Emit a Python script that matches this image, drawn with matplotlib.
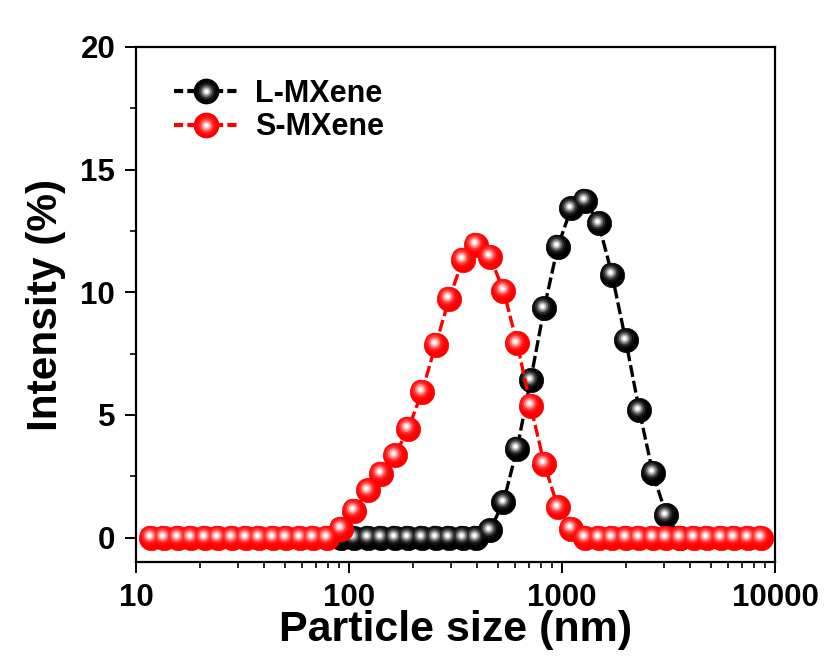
import numpy as np
import matplotlib
matplotlib.use("Agg")
import matplotlib.pyplot as plt
from matplotlib.lines import Line2D
from matplotlib.legend_handler import HandlerTuple
from matplotlib.transforms import offset_copy
from matplotlib.ticker import MultipleLocator, FixedLocator, NullFormatter


# particle size bins (nm) and intensity (%)
L_SIZE = [91.28, 105.7, 122.4, 141.8, 164.2, 190.1, 220.2, 255.0, 295.3, 342.0,
          396.1, 458.7, 531.2, 615.1, 712.4, 825.0, 955.4, 1106, 1281, 1484,
          1718, 1990, 2305, 2669, 3091, 3580]
L_INT = [0, 0, 0, 0, 0, 0, 0, 0, 0, 0,
         0, 0.30, 1.44, 3.62, 6.42, 9.35, 11.86, 13.43, 13.74, 12.82,
         10.71, 8.05, 5.19, 2.63, 0.90, 0]

S_SIZE = [11.7, 13.54, 15.69, 18.17, 21.04, 24.36, 28.21, 32.67, 37.84, 43.82,
          50.75, 58.77, 68.06, 78.82, 91.28, 105.7, 122.4, 141.8, 164.2, 190.1,
          220.2, 255.0, 295.3, 342.0, 396.1, 458.7, 531.2, 615.1, 712.4, 825.0,
          955.4, 1106, 1281, 1484, 1718, 1990, 2305, 2669, 3091, 3580,
          4145, 4801, 5560, 6439, 7456, 8635]
S_INT = [0, 0, 0, 0, 0, 0, 0, 0, 0, 0,
         0, 0, 0, 0, 0.36, 1.10, 1.92, 2.60, 3.35, 4.44,
         5.94, 7.85, 9.73, 11.32, 11.93, 11.45, 10.07, 7.92, 5.37, 3.01,
         1.24, 0.35, 0, 0, 0, 0, 0, 0, 0, 0,
         0, 0, 0, 0, 0, 0]

LABELS = ["L-MXene", "S-MXene"]
X_TICKS = [10, 100, 1000, 10000]
Y_TICKS = [0, 5, 10, 15, 20]

MS = 17.5
LW = 2.4
DASH = (0, (3.6, 1.2))
# (size fraction, mix-to-white) layers for the shaded ball look
LAYERS = [(0.8, 0.06), (0.62, 0.2), (0.46, 0.45), (0.32, 0.72), (0.18, 1.0)]


def mix(color, t):
    c = np.array(matplotlib.colors.to_rgb(color))
    return tuple(c + (1 - c) * t)


def sphere_series(fig, ax, x, y, color, z):
    ax.plot(x, y, color=color, linestyle=DASH, linewidth=LW, zorder=z)
    ax.plot(x, y, linestyle="none", marker="o", markersize=MS,
            markerfacecolor=color, markeredgecolor=color, markeredgewidth=0.5,
            zorder=z + 0.1)
    tr = offset_copy(ax.transData, fig=fig, x=-1.4, y=1.8, units="points")
    for i, (frac, t) in enumerate(LAYERS):
        ax.plot(x, y, linestyle="none", marker="o", markersize=MS * frac,
                markerfacecolor=mix(color, t), markeredgecolor="none",
                transform=tr, zorder=z + 0.2 + 0.01 * i)


def legend_handle(color):
    parts = [Line2D([], [], color=color, linestyle=(0, (2.2, 1.0)), linewidth=LW + 0.6,
                    marker="o", markersize=MS, markerfacecolor=color,
                    markeredgecolor=color)]
    for frac, t in LAYERS:
        parts.append(Line2D([], [], linestyle="none", marker="o",
                            markersize=MS * frac, markerfacecolor=mix(color, t),
                            markeredgecolor="none"))
    return tuple(parts)


plt.rcParams["font.family"] = ["Liberation Sans", "DejaVu Sans"]
plt.rcParams["font.weight"] = "bold"

fig = plt.figure(figsize=(8.37, 6.71), dpi=100)
ax = fig.add_axes([0.1625, 0.1624, 0.7634, 0.7676])

sphere_series(fig, ax, L_SIZE, L_INT, "black", 3)
sphere_series(fig, ax, S_SIZE, S_INT, "#ff0000", 4)

ax.set_xscale("log")
ax.set_xlim(10, 10000)
ax.set_ylim(-1, 20)
ax.xaxis.set_major_locator(FixedLocator(X_TICKS))
ax.set_xticklabels([str(t) for t in X_TICKS])
ax.xaxis.set_minor_formatter(NullFormatter())
ax.set_yticks(Y_TICKS)
ax.yaxis.set_minor_locator(MultipleLocator(2.5))

for sp in ax.spines.values():
    sp.set_linewidth(1.6)
ax.tick_params(axis="both", which="major", direction="out", length=8,
               width=1.4, labelsize=22.5, pad=7, top=False, right=False)
ax.tick_params(axis="both", which="minor", direction="out", length=4,
               width=1.2, top=False, right=False)

ax.set_xlabel("Particle size (nm)", fontsize=31, fontweight="bold", labelpad=-2)
ax.set_ylabel("Intensity (%)", fontsize=30.5, fontweight="bold", labelpad=10)

ax.legend([legend_handle("black"), legend_handle("#ff0000")], LABELS,
          handler_map={tuple: HandlerTuple(ndivide=1)},
          loc="upper left", bbox_to_anchor=(0.04, 0.962), frameon=False,
          fontsize=22, handlelength=2.1, handletextpad=0.55, labelspacing=0.12,
          borderaxespad=0.0)

fig.savefig("out.png", dpi=100)
